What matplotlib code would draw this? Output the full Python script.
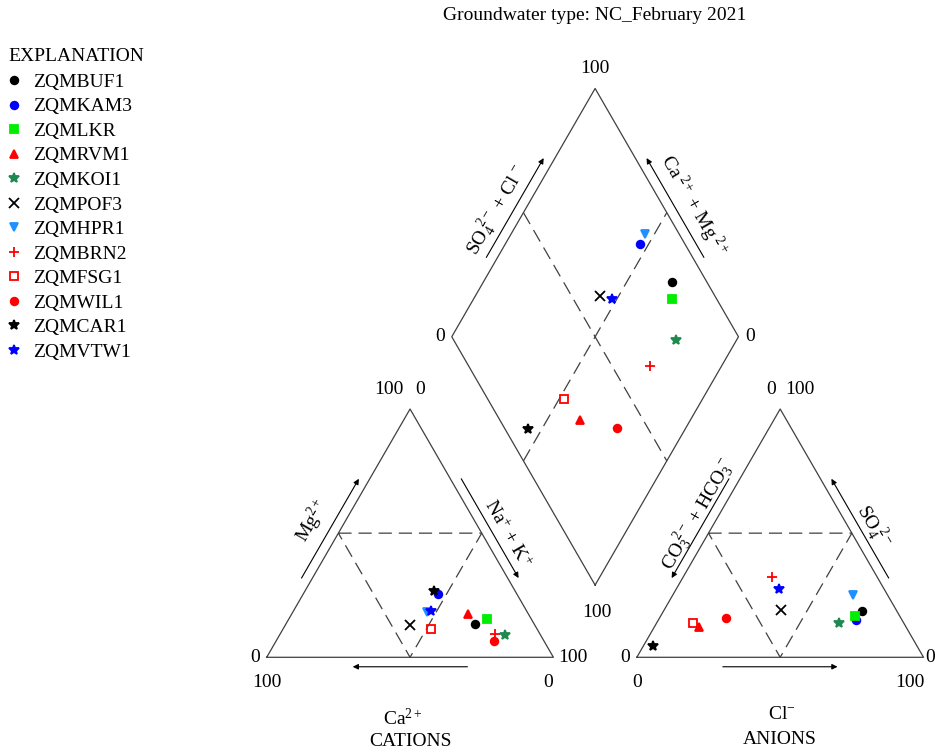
import numpy as np
import matplotlib
matplotlib.use("Agg")
import matplotlib.pyplot as plt

plt.rcParams['font.family'] = 'Liberation Serif'
plt.rcParams['mathtext.fontset'] = 'custom'
plt.rcParams['mathtext.rm'] = 'Liberation Serif'
plt.rcParams['mathtext.it'] = 'Liberation Serif:italic'
plt.rcParams['lines.scale_dashes'] = False

title = "Groundwater type: NC_February 2021"
sites = ["ZQMBUF1", "ZQMKAM3", "ZQMLKR", "ZQMRVM1", "ZQMKOI1", "ZQMPOF3",
         "ZQMHPR1", "ZQMBRN2", "ZQMFSG1", "ZQMWIL1", "ZQMCAR1", "ZQMVTW1"]

# cations, % meq
ca = [20.7, 27.7, 15.4, 21.2, 12.4, 43.5, 35.1, 15.6, 36.9, 17.4, 28.2, 33.3]
mg = [13.4, 25.4, 15.3, 17.3, 8.9, 13.1, 18.1, 9.3, 11.5, 6.7, 26.8, 18.6]
nak = [65.9, 46.9, 69.3, 61.5, 78.7, 43.4, 46.8, 75.1, 51.6, 75.9, 45.0, 48.1]
# anions, % meq
hco3 = [12.2, 15.9, 15.4, 72.2, 22.5, 40.0, 11.9, 36.8, 73.4, 60.8, 92.0, 36.6]
so4 = [18.5, 15.1, 16.7, 12.1, 13.9, 19.1, 25.1, 32.2, 14.0, 15.9, 4.4, 27.6]
cl = [69.3, 69.0, 67.9, 15.7, 63.6, 40.9, 63.0, 31.0, 12.6, 23.3, 3.6, 35.8]

colors = ["black", "#0000ff", "#00ee00", "#ff0000", "#1f8a50", "black",
          "#1e90ff", "#ff0000", "#ff0000", "#ff0000", "black", "#0000ff"]
markers = ["o", "o", "s", "^", "*", "x", "v", "+", "s", "o", "*", "*"]
msizes = [5.5, 5.5, 6, 5.5, 7, 6.5, 5.5, 7, 6, 5.5, 7, 7]

# geometry (one unit = side of a triangle)
S = 286.7
X0, Y0 = 266.7, 657.3
h = np.sqrt(3) / 2
g = 0.291
ox = 1 + g
lc = "#404040"
lw = 0.9
dash = (0, (9.5, 5))

fig = plt.figure(figsize=(9.35, 7.54), dpi=100)
ax = fig.add_axes([0, 0, 1, 1])
ax.set_xlim(-X0 / S, (935 - X0) / S)
ax.set_ylim(-(754 - Y0) / S, Y0 / S)
ax.axis("off")


def edge_pt(p0, p1, t, off):
    p0 = np.array(p0, float)
    p1 = np.array(p1, float)
    d = p1 - p0
    n = np.array([-d[1], d[0]]) / np.hypot(*d)
    return p0 + t * d + off * n


def arrow(a, b):
    ax.annotate("", xy=b, xytext=a,
                arrowprops=dict(arrowstyle="-|>", lw=0.8, color="black",
                                mutation_scale=8, shrinkA=0, shrinkB=0))


def txt(p, s, rot=0, size=14, ha="center"):
    ax.text(p[0], p[1], s, rotation=rot, rotation_mode="anchor",
            ha=ha, va="center", fontsize=size)


# triangles
for x0 in (0, ox):
    ax.plot([x0, x0 + 1, x0 + 0.5, x0], [0, 0, h, 0], color=lc, lw=lw)
    ax.plot([x0 + 0.25, x0 + 0.75, x0 + 0.5, x0 + 0.25], [h / 2, h / 2, 0, h / 2],
            color=lc, lw=lw, ls=dash)

# diamond
Bd = np.array([1 + g / 2, h * g])
Ld = Bd + [-0.5, h]
Rd = Bd + [0.5, h]
Td = Bd + [0, 2 * h]
dx = [Bd[0], Ld[0], Td[0], Rd[0], Bd[0]]
dy = [Bd[1], Ld[1], Td[1], Rd[1], Bd[1]]
ax.plot(dx, dy, color=lc, lw=lw)
ax.plot([(Bd[0] + Ld[0]) / 2, (Rd[0] + Td[0]) / 2], [(Bd[1] + Ld[1]) / 2, (Rd[1] + Td[1]) / 2],
        color=lc, lw=lw, ls=dash)
ax.plot([(Ld[0] + Td[0]) / 2, (Bd[0] + Rd[0]) / 2], [(Ld[1] + Td[1]) / 2, (Bd[1] + Rd[1]) / 2],
        color=lc, lw=lw, ls=dash)

# cation triangle axes
A, B, C = (0, 0), (1, 0), (0.5, h)
arrow(edge_pt(A, C, 0.3, 0.033), edge_pt(A, C, 0.7, 0.033))
txt(edge_pt(A, C, 0.49, 0.1), r"Mg$^{2+}$", 60)
arrow(edge_pt(C, B, 0.3, 0.033), edge_pt(C, B, 0.7, 0.033))
txt(edge_pt(C, B, 0.544, 0.075), r"Na$^{+}$ + K$^{+}$", -60)
arrow((0.7, -0.033), (0.3, -0.033))
txt((0.476, -0.215), r"Ca$^{2+}$")
txt((0.5, -0.294), "CATIONS")
txt((-0.04, 0), "0")
txt((0, -0.088), "100")
txt((1.068, 0), "100")
txt((0.982, -0.088), "0")
txt((0.4266, 0.934), "100")
txt((0.5348, 0.934), "0")

# anion triangle axes
A2, B2, C2 = (ox, 0), (ox + 1, 0), (ox + 0.5, h)
arrow(edge_pt(A2, C2, 0.7, 0.033), edge_pt(A2, C2, 0.3, 0.033))
txt(edge_pt(A2, C2, 0.54, 0.065), r"CO$_3^{\ 2-}$ + HCO$_3^{\ -}$", 60)
arrow(edge_pt(C2, B2, 0.7, 0.033), edge_pt(C2, B2, 0.3, 0.033))
txt(edge_pt(C2, B2, 0.518, 0.076), r"SO$_4^{\ 2-}$", -60)
arrow((ox + 0.3, -0.033), (ox + 0.7, -0.033))
txt((ox + 0.506, -0.2), r"Cl$^{-}$")
txt((ox + 0.5, -0.288), "ANIONS")
txt((ox - 0.04, 0), "0")
txt((ox, -0.088), "0")
txt((ox + 0.951, -0.088), "100")
txt((ox + 1.006, 0), "0", ha="left")
txt((ox + 0.467, 0.934), "0")
txt((ox + 0.569, 0.934), "100")

# diamond axes
arrow(edge_pt(Ld, Td, 0.3, 0.034), edge_pt(Ld, Td, 0.7, 0.034))
txt(edge_pt(Ld, Td, 0.4636, 0.085), r"SO$_4^{\ 2-}$ + Cl$^{\ -}$", 60)
arrow(edge_pt(Td, Rd, 0.7, 0.034), edge_pt(Td, Rd, 0.3, 0.034))
txt(edge_pt(Td, Rd, 0.525, 0.09), r"Ca$^{\ 2+}$ + Mg$^{\ 2+}$", -60)
txt((Td[0], Td[1] + 0.07), "100")
txt((Ld[0] - 0.04, Ld[1]), "0")
txt((Rd[0] + 0.04, Rd[1]), "0")
txt((Bd[0] + 0.005, Bd[1] - 0.095), "100")

txt((1.145, 2.237), title)

# samples
for i, name in enumerate(sites):
    tc = ca[i] + mg[i] + nak[i]
    ta = hco3[i] + so4[i] + cl[i]
    m_, n_ = mg[i] / tc, nak[i] / tc
    s_, c_ = so4[i] / ta, cl[i] / ta
    xc, yc = n_ + m_ / 2, m_ * h
    xa, ya = ox + c_ + s_ / 2, s_ * h
    u, v = 1 - n_, s_ + c_
    xd, yd = Bd[0] + 0.5 * (v - u), h * (g + u + v)
    face = "none" if i == 8 else colors[i]
    ax.plot([xc, xa, xd], [yc, ya, yd], ls="none", marker=markers[i],
            ms=msizes[i], mfc=face, mec=colors[i], mew=1.3, label=name)

leg = ax.legend(loc="upper left", bbox_to_anchor=(8 / 935, 1 - 48 / 754),
                bbox_transform=fig.transFigure, frameon=False, title="EXPLANATION",
                alignment="left", fontsize=14, title_fontsize=14, handlelength=0.6,
                handletextpad=0.68, labelspacing=0.355, borderpad=0, borderaxespad=0,
                numpoints=1)
leg._legend_box.sep = 6

fig.savefig("out.png", dpi=100)
